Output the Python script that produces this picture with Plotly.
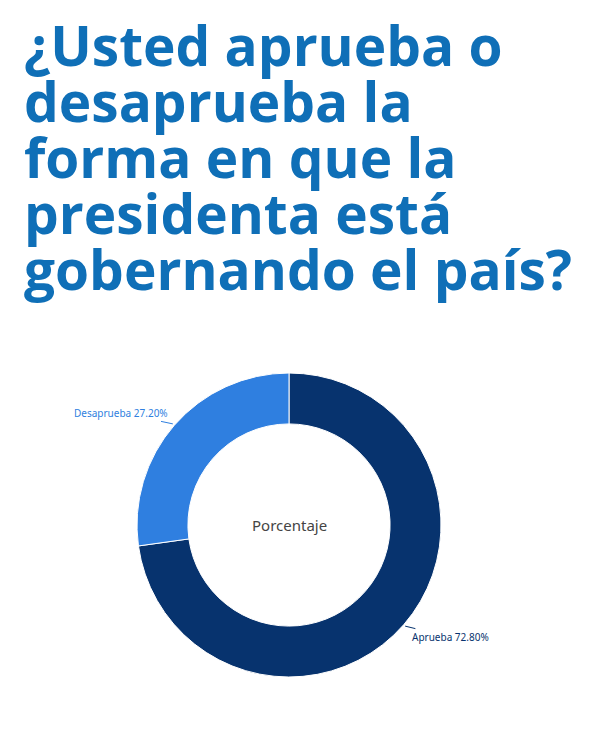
import math
import plotly.graph_objects as go

labels = ["Aprueba", "Desaprueba"]
values = [72.80, 27.20]
colors = ["#07336e", "#2f7fe0"]
title_lines = ["¿Usted aprueba o", "desaprueba la", "forma en que la",
               "presidenta está", "gobernando el país?"]
center_text = "Porcentaje"

W, H = 601, 736
cx, cy, R = 289, 525, 152  # pixel center & radius of the donut

dom_x = [(cx - R) / W, (cx + R) / W]
dom_y = [(H - cy - R) / H, (H - cy + R) / H]

fig = go.Figure()
fig.add_trace(go.Pie(
    labels=labels, values=values, sort=False, direction="clockwise", rotation=0,
    hole=0.665, textinfo="none", hoverinfo="label+percent",
    marker=dict(colors=colors, line=dict(color="white", width=1)),
    domain=dict(x=dom_x, y=dom_y), showlegend=False,
))

annotations = []
TS = 55
for i, line in enumerate(title_lines):
    baseline = 64 + 56 * i
    annotations.append(dict(
        text=line, x=22 / W, y=1 - (baseline - 0.36 * TS) / H, xref="paper", yref="paper",
        xanchor="left", yanchor="middle", align="left", showarrow=False,
        font=dict(family="Open Sans", size=TS, color="#0f6fb7", weight="bold")))

annotations.append(dict(text=center_text, x=cx / W, y=1 - cy / H, xref="paper", yref="paper",
                        yshift=-12, showarrow=False,
                        font=dict(family="Noto Sans", size=15, color="#444444")))

offsets = {"Aprueba": (45, 11), "Desaprueba": (-52, -11)}
total = sum(values)
start = 0.0
for lab, val, col in zip(labels, values, colors):
    mid = start + val / total * 360 / 2
    start += val / total * 360
    ang = math.radians(90 - mid)  # clockwise from top
    px = cx + (R + 2) * math.cos(ang)
    py = cy - (R + 2) * math.sin(ang)
    ax, ay = offsets[lab]
    annotations.append(dict(
        text=f"{lab} {val:.2f}%", x=px / W, y=1 - py / H, xref="paper", yref="paper",
        showarrow=True, arrowhead=0, arrowwidth=1, arrowcolor=col, ax=ax, ay=ay,
        font=dict(family="Noto Sans", size=10, color=col),
    ))

fig.update_layout(
    width=W, height=H, margin=dict(l=0, r=0, t=0, b=0),
    paper_bgcolor="white", plot_bgcolor="white", annotations=annotations,
)
fig.write_html("out.html")
